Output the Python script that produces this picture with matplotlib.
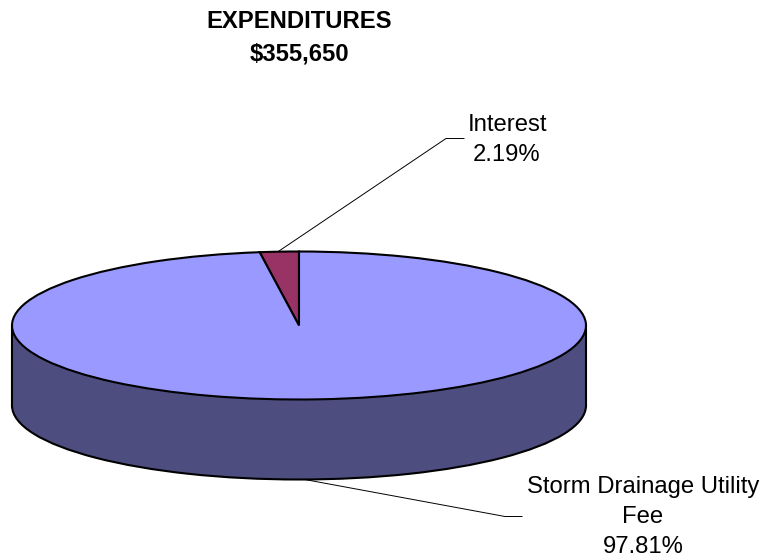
import matplotlib
matplotlib.use("Agg")
import matplotlib.pyplot as plt
from matplotlib.patches import Rectangle

labels = ["Interest", "Storm Drainage Utility\nFee"]
shares = [2.19, 97.81]
share_labels = ["2.19%", "97.81%"]
title = "EXPENDITURES\n$355,650"

plt.rcParams["font.family"] = ["Liberation Sans", "DejaVu Sans"]

W, H = 763, 558
CX, CY = 299, 325.5
RX, RY = 287, 74
DEPTH = 80
TOP = "#9999FF"
SIDE = "#4D4D80"
WEDGE = "#993366"
FONT = 17.2


def x_of(px):
    return (px - CX) / RX


def y_of(py):
    return (CY - py) / RY


fig = plt.figure(figsize=(W / 100, H / 100), dpi=100)
ax = fig.add_axes([0, 0, 1, 1])

edge = {"edgecolor": "black", "linewidth": 1.5}
drop = DEPTH / RY

# bottom rim and side wall first, top face over them
ax.pie([100], colors=[SIDE], center=(0, -drop), wedgeprops={**edge, "zorder": 2})
ax.add_patch(Rectangle((-1, -drop), 2, drop, facecolor=SIDE, edgecolor="none", zorder=2.5))
ax.plot([-1, -1], [0, -drop], color="black", lw=1.5, zorder=3)
ax.plot([1, 1], [0, -drop], color="black", lw=1.5, zorder=3)
ax.pie(shares, colors=[WEDGE, TOP], startangle=90, wedgeprops={**edge, "zorder": 4})

ax.set_aspect("auto")
ax.set_xlim(x_of(0), x_of(W))
ax.set_ylim(y_of(H), y_of(0))
ax.axis("off")

# leader lines
ax.plot([x_of(279), x_of(446), x_of(464)], [y_of(251), y_of(138.5), y_of(138.5)],
        color="black", lw=0.7, zorder=5)
ax.plot([x_of(302), x_of(505), x_of(522)], [y_of(479), y_of(516.5), y_of(516.5)],
        color="black", lw=0.7, zorder=1)

ax.text(x_of(507), y_of(140), labels[0] + "\n" + share_labels[0], ha="center", va="center",
        fontsize=FONT, linespacing=1.42)
ax.text(x_of(643), y_of(517), labels[1] + "\n" + share_labels[1], ha="center", va="center",
        fontsize=FONT, linespacing=1.45)
ax.text(x_of(299), y_of(37.5), title, ha="center", va="center", fontsize=FONT,
        fontweight="bold", linespacing=1.5)

fig.savefig("out.png", dpi=100)
